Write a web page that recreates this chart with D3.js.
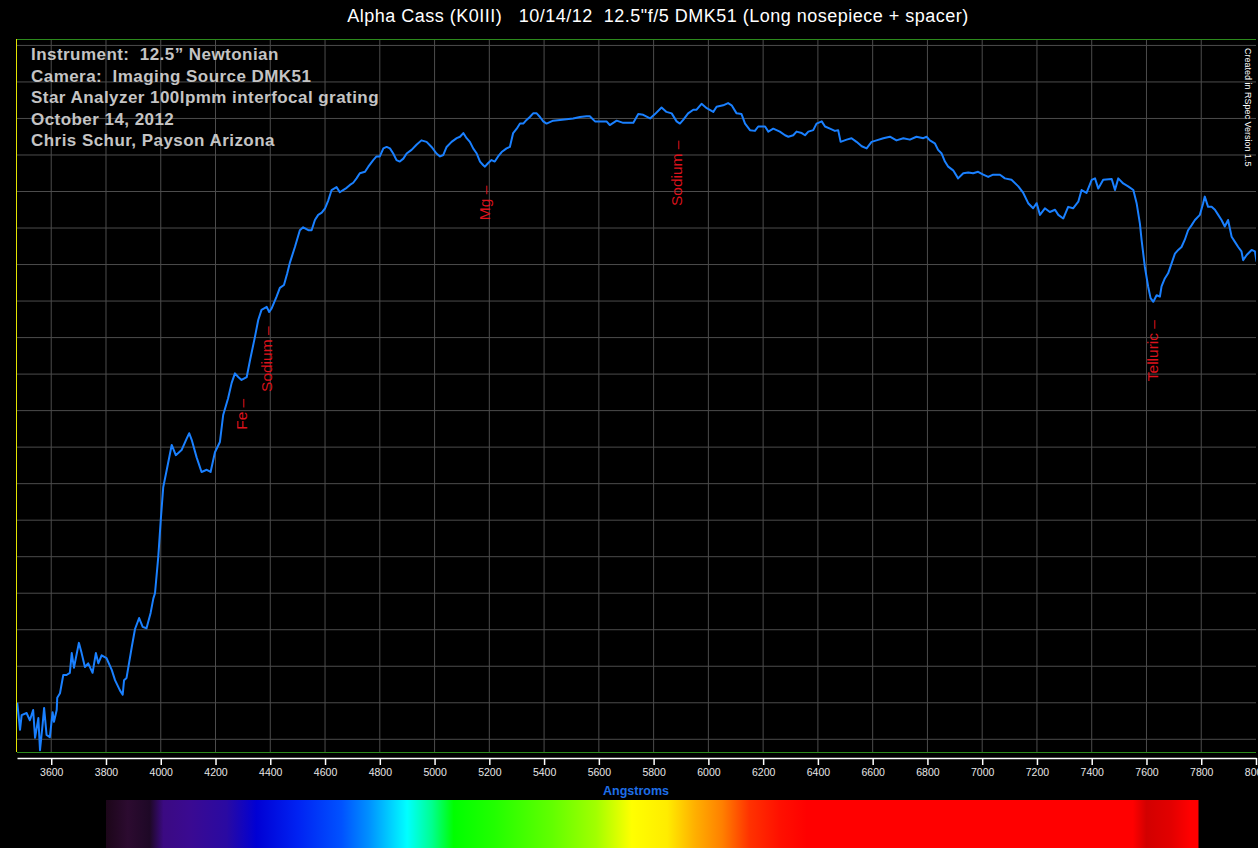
<!DOCTYPE html>
<html>
<head>
<meta charset="utf-8">
<script src="https://cdn.jsdelivr.net/npm/d3@7"></script>
<style>
  body { margin: 0; background: #000; }
  svg { display: block; font-family: "Liberation Sans", Arial, sans-serif; }
</style>
</head>
<body>
<div id="container"></div>
<script>
// wavelength (Angstroms) and relative intensity
const wavelengths = [3476,3486,3492,3510,3522,3534,3541,3553,3559,3569,3574,3583,3595,3605,3610,3620,3622,3632,3644,3656,
  3668,3675,3683,3701,3711,3723,3735,3751,3763,3772,3784,3802,3821,3833,3851,3861,3866,3875,3894,3906,
  3921,3934,3948,3963,3973,3979,3991,4000,4009,4022,4040,4055,4076,4095,4104,4113,4131,4149,4168,4182,
  4198,4216,4228,4246,4259,4271,4283,4295,4314,4326,4344,4356,4368,4387,4396,4405,4423,4435,4450,4462,
  4472,4490,4508,4520,4539,4551,4563,4575,4588,4600,4612,4624,4642,4654,4666,4679,4691,4703,4715,4727,
  4746,4758,4776,4788,4800,4813,4825,4837,4849,4861,4873,4886,4898,4916,4934,4952,4971,4989,5007,5020,
  5032,5044,5062,5081,5093,5105,5117,5129,5141,5154,5166,5178,5184,5196,5208,5220,5232,5245,5263,5275,
  5287,5300,5312,5324,5336,5348,5360,5373,5385,5397,5409,5433,5458,5482,5506,5531,5555,5567,5586,5604,
  5628,5640,5665,5689,5726,5744,5762,5787,5805,5829,5847,5866,5884,5896,5908,5926,5945,5957,5975,5994,
  6018,6030,6054,6072,
  6085,6103,6121,6134,6152,6170,6182,6207,6219,6237,6261,6280,6292,6310,6322,6341,6353,6365,6383,6395,
  6414,6426,6444,6462,6474,6483,6505,6523,6541,6560,6578,6596,6614,6639,6663,6687,6712,6736,6760,6785,
  6797,6809,6827,6839,6852,6864,6876,6894,6912,6931,6949,6967,6985,7004,7022,7040,7065,7083,7107,7132,
  7150,7168,7186,7199,7211,7229,7247,7266,7278,7296,
  7314,7332,7351,7363,7381,7400,7412,7424,7442,7473,7485,7497,7515,7533,7552,7564,7576,7582,7594,7606,
  7615,7625,7637,7649,7655,7667,7679,7692,7704,7716,7728,7740,7752,7765,7777,7795,7807,7813,7825,7838,
  7850,7862,7874,7886,7898,7911,7923,7935,7947,7953,7966,7984,7996,8002];

const intensity = [0.100,0.063,0.083,0.086,0.076,0.090,0.052,0.079,0.035,0.072,0.093,0.056,0.053,0.087,0.074,0.090,0.107,0.113,0.138,0.138,
  0.141,0.168,0.148,0.182,0.168,0.149,0.154,0.141,0.168,0.154,0.165,0.161,0.145,0.131,0.117,0.111,0.131,0.134,0.176,0.201,
  0.216,0.204,0.202,0.223,0.243,0.250,0.300,0.350,0.395,0.419,0.453,0.439,0.446,0.462,0.469,0.460,0.436,0.416,0.419,0.416,
  0.443,0.457,0.494,0.517,0.538,0.551,0.546,0.542,0.546,0.569,0.601,0.624,0.638,0.642,0.635,0.640,0.656,0.668,0.672,0.688,
  0.703,0.724,0.747,0.751,0.747,0.747,0.761,0.768,0.771,0.777,0.788,0.802,0.806,0.799,0.802,0.805,0.809,0.812,0.818,0.825,
  0.827,0.834,0.843,0.848,0.848,0.859,0.861,0.859,0.852,0.843,0.841,0.845,0.852,0.857,0.864,0.870,0.868,0.861,0.852,0.848,
  0.850,0.861,0.868,0.873,0.875,0.880,0.873,0.868,0.859,0.852,0.841,0.836,0.834,0.839,0.843,0.841,0.848,0.854,0.859,0.861,
  0.880,0.886,0.893,0.893,0.898,0.902,0.907,0.907,0.902,0.896,0.893,0.897,0.898,0.899,0.900,0.902,0.903,0.903,0.896,0.896,
  0.896,0.891,0.897,0.894,0.894,0.906,0.905,0.900,0.906,0.915,0.909,0.907,0.896,0.893,0.898,0.907,0.912,0.912,0.920,0.914,
  0.909,0.916,0.918,0.921,
  0.918,0.907,0.906,0.893,0.884,0.883,0.889,0.889,0.882,0.886,0.882,0.877,0.875,0.877,0.882,0.880,0.877,0.882,0.884,0.893,
  0.896,0.889,0.886,0.883,0.884,0.868,0.871,0.873,0.868,0.862,0.859,0.868,0.870,0.873,0.875,0.870,0.873,0.871,0.875,0.873,
  0.875,0.870,0.866,0.857,0.852,0.841,0.834,0.829,0.818,0.825,0.826,0.825,0.827,0.823,0.820,0.823,0.823,0.818,0.816,0.807,
  0.798,0.784,0.777,0.784,0.768,0.777,0.772,0.775,0.768,0.763,
  0.779,0.777,0.786,0.802,0.798,0.816,0.818,0.804,0.816,0.817,0.802,0.818,0.811,0.807,0.802,0.784,0.756,0.734,0.697,0.670,
  0.654,0.649,0.658,0.656,0.670,0.681,0.688,0.702,0.715,0.720,0.724,0.734,0.747,0.754,0.761,0.768,0.784,0.793,0.779,0.779,
  0.775,0.768,0.761,0.752,0.761,0.738,0.731,0.724,0.718,0.706,0.713,0.720,0.718,0.704];

const xTicks = d3.range(3600, 8001, 200);
const yGrid = d3.range(1, 21).map(i => i * 0.05);

const lineNames = ['Fe \u2013', 'Sodium \u2013', 'Mg \u2013', 'Sodium \u2013', 'Telluric \u2013'];
const lineWaves = [4296, 4388, 5184, 5885, 7623];

const notes = [
  'Instrument:  12.5\u201d Newtonian',
  'Camera:  Imaging Source DMK51',
  'Star Analyzer 100lpmm interfocal grating',
  'October 14, 2012',
  'Chris Schur, Payson Arizona'
];

// colour strip under the axis
const stripWaves = [3800,3880,3960,4010,4110,4240,4350,4500,4660,4760,4860,4900,4990,5070,5220,5430,5590,5720,5850,5950,6050,6150,6260,6360,7550,7600,7690,7760,7790];
const stripColors = ['#1c0619','#2c0b30','#1e0826','#3b0a82','#3a0a92','#2a0aa2','#0000d4','#0022f2','#0052ff','#0090ff','#00e0ff','#00ffff','#00ff90','#00ff00','#22ff00','#62ff00','#a2ff00','#ffff00','#ffec00','#ffb000','#ff8000','#ff3200','#ff1000','#ff0000','#ff0000','#d20000','#e20000','#ff0000','#ff0000'];

const w = 1258;
const h = 848;
const plot = { left: 17, right: 1256, top: 39, bottom: 752 };

const svg = d3.select('#container')
  .append('svg')
  .attr('width', w)
  .attr('height', h);

svg.append('rect').attr('width', w).attr('height', h).attr('fill', '#000');

const xScale = d3.scaleLinear()
  .domain([3475, 8000])
  .range([plot.left, plot.right]);

const yScale = d3.scaleLinear()
  .domain([0.0326, 1.0088])
  .range([plot.bottom, plot.top]);

// grid
svg.append('g')
  .selectAll('line')
  .data(xTicks.filter(d => d < 8000))
  .enter()
  .append('line')
  .attr('x1', d => xScale(d)).attr('x2', d => xScale(d))
  .attr('y1', plot.top).attr('y2', plot.bottom)
  .attr('stroke', '#4c4c4c');

svg.append('g')
  .selectAll('line')
  .data(yGrid)
  .enter()
  .append('line')
  .attr('x1', plot.left).attr('x2', plot.right)
  .attr('y1', d => yScale(d)).attr('y2', d => yScale(d))
  .attr('stroke', '#4c4c4c');

// frame
svg.append('line')
  .attr('x1', plot.left).attr('x2', plot.right)
  .attr('y1', plot.top + 0.5).attr('y2', plot.top + 0.5)
  .attr('stroke', '#2c8a1c');
svg.append('line')
  .attr('x1', plot.left).attr('x2', plot.right)
  .attr('y1', plot.bottom + 0.5).attr('y2', plot.bottom + 0.5)
  .attr('stroke', '#2c8a1c');
svg.append('line')
  .attr('x1', plot.left - 0.5).attr('x2', plot.left - 0.5)
  .attr('y1', plot.top).attr('y2', plot.bottom)
  .attr('stroke', '#e4e400');

// spectrum line
svg.append('clipPath').attr('id', 'clip')
  .append('rect')
  .attr('x', plot.left).attr('y', plot.top)
  .attr('width', plot.right - plot.left).attr('height', plot.bottom - plot.top);

const points = wavelengths.map((d, i) => [d, intensity[i]]);

const line = d3.line()
  .x(d => xScale(d[0]))
  .y(d => yScale(d[1]));

svg.append('path')
  .datum(points)
  .attr('clip-path', 'url(#clip)')
  .attr('d', line)
  .attr('fill', 'none')
  .attr('stroke', '#1a80ff')
  .attr('stroke-width', 2)
  .attr('stroke-linejoin', 'round');

// line identifications
const bisect = d3.bisector(d => d[0]).left;
const valueAt = wl => {
  const i = bisect(points, wl);
  const a = points[i - 1], b = points[i];
  return a[1] + (b[1] - a[1]) * (wl - a[0]) / (b[0] - a[0]);
};

svg.append('g')
  .selectAll('text')
  .data(lineNames)
  .enter()
  .append('text')
  .attr('transform', (d, i) => `translate(${xScale(lineWaves[i])},${yScale(valueAt(lineWaves[i])) + 19}) rotate(-90)`)
  .attr('text-anchor', 'end')
  .attr('dy', '0.35em')
  .attr('fill', '#dc121c')
  .style('font-size', '15.5px')
  .text(d => d);

// notes top-left
svg.append('g')
  .selectAll('text')
  .data(notes)
  .enter()
  .append('text')
  .attr('x', 31)
  .attr('y', (d, i) => 60 + i * 21.5)
  .attr('fill', '#c4c4c4')
  .style('font-size', '17px')
  .style('font-weight', 'bold')
  .style('letter-spacing', '0.45px')
  .style('white-space', 'pre')
  .text(d => d);

// title
svg.append('text')
  .attr('x', 658)
  .attr('y', 22)
  .attr('text-anchor', 'middle')
  .attr('fill', '#fff')
  .style('font-size', '18px')
  .style('letter-spacing', '0.5px')
  .style('white-space', 'pre')
  .text('Alpha Cass (K0III)   10/14/12  12.5"f/5 DMK51 (Long nosepiece + spacer)');

svg.append('text')
  .attr('transform', 'translate(1248,48) rotate(90)')
  .attr('dy', '0.35em')
  .attr('fill', '#fff')
  .style('font-size', '9px')
  .text('Created in RSpec Version 1.5');

// x axis
const xAxis = d3.axisBottom(xScale)
  .tickValues(xTicks)
  .tickSize(7)
  .tickSizeOuter(0)
  .tickPadding(4)
  .tickFormat(d3.format('d'));

const axisG = svg.append('g')
  .attr('transform', 'translate(0,758)')
  .call(xAxis);
axisG.select('.domain').attr('stroke', '#fff').attr('stroke-width', 1.5);
axisG.selectAll('.tick line').attr('stroke', '#fff').attr('stroke-width', 1.5);
axisG.selectAll('.tick text')
  .attr('fill', '#e6e6e6')
  .style('font-size', '10.5px')
  .style('font-family', '"Liberation Sans", Arial, sans-serif');

svg.append('text')
  .attr('x', 636)
  .attr('y', 795)
  .attr('text-anchor', 'middle')
  .attr('fill', '#1e6ee8')
  .style('font-size', '12.5px')
  .style('font-weight', 'bold')
  .text('Angstroms');

// colour strip
const grad = svg.append('defs')
  .append('linearGradient')
  .attr('id', 'strip')
  .attr('x1', '0%').attr('x2', '100%');

const stripX = d3.scaleLinear()
  .domain([stripWaves[0], stripWaves[stripWaves.length - 1]])
  .range([0, 1]);

grad.selectAll('stop')
  .data(stripWaves)
  .enter()
  .append('stop')
  .attr('offset', d => stripX(d))
  .attr('stop-color', (d, i) => stripColors[i]);

svg.append('rect')
  .attr('x', xScale(stripWaves[0]))
  .attr('y', 800)
  .attr('width', xScale(stripWaves[stripWaves.length - 1]) - xScale(stripWaves[0]))
  .attr('height', 48)
  .attr('fill', 'url(#strip)');
</script>
</body>
</html>
